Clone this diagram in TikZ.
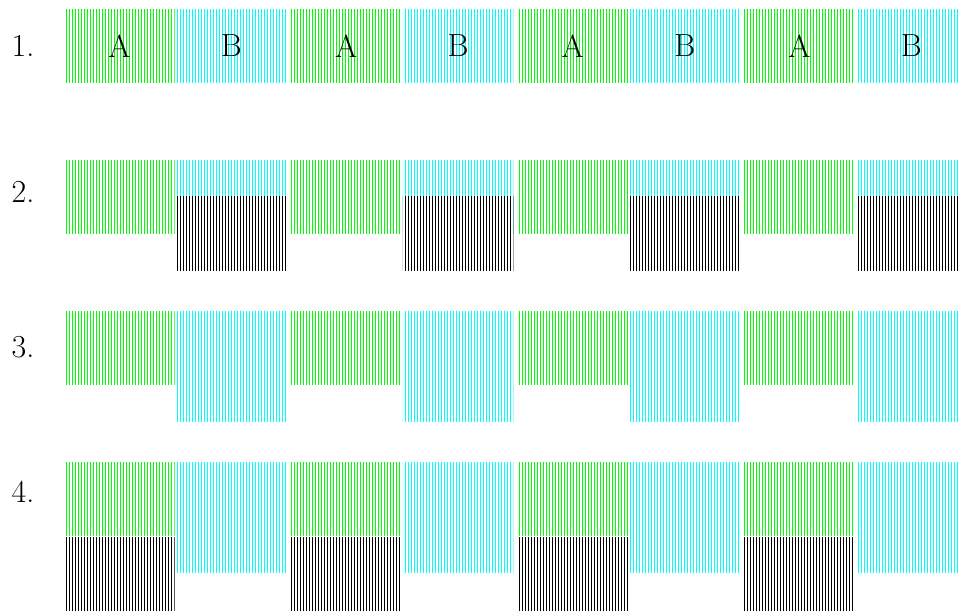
\documentclass[tikz,border=0pt]{standalone}
\usetikzlibrary{patterns}
\begin{document}
\begin{tikzpicture}[x=1pt,y=1pt,
  blk/.style={anchor=north west,inner sep=0pt,minimum width=110.5pt,minimum height=73.3pt,font=\fontsize{32}{38}\selectfont},
  tall/.style={minimum height=110.5pt},
  gblk/.style={blk,pattern=vertical lines,pattern color=green},
  cblk/.style={blk,pattern=vertical lines,pattern color=cyan},
  kblk/.style={blk,pattern=vertical lines,pattern color=black},
  num/.style={inner sep=0pt,font=\fontsize{32}{38}\selectfont}]
  \useasboundingbox (0,0) rectangle (959,613);
  % row labels
  \node[num] (n1) at (23,567.5) {1.};
  \node[num] (n2) at (23,421) {2.};
  \node[num] (n3) at (23,265.5) {3.};
  \node[num] (n4) at (23,121) {4.};
  % row 1
  \node[gblk] (a1-1) at (64,604) {A};
  \node[cblk] (b1-1) at (176,604) {B};
  \node[gblk] (a1-2) at (290.7,604) {A};
  \node[cblk] (b1-2) at (402.7,604) {B};
  \node[gblk] (a1-3) at (517.3,604) {A};
  \node[cblk] (b1-3) at (629.3,604) {B};
  \node[gblk] (a1-4) at (744,604) {A};
  \node[cblk] (b1-4) at (856,604) {B};
  % row 2
  \node[gblk] (a2-1) at (64,453) {};
  \node[cblk] (b2-1) at (176,453) {};
  \node[kblk] (k2-1) at (176,416.3) {};
  \node[gblk] (a2-2) at (290.7,453) {};
  \node[cblk] (b2-2) at (402.7,453) {};
  \node[kblk] (k2-2) at (402.7,416.3) {};
  \node[gblk] (a2-3) at (517.3,453) {};
  \node[cblk] (b2-3) at (629.3,453) {};
  \node[kblk] (k2-3) at (629.3,416.3) {};
  \node[gblk] (a2-4) at (744,453) {};
  \node[cblk] (b2-4) at (856,453) {};
  \node[kblk] (k2-4) at (856,416.3) {};
  % row 3
  \node[gblk] (a3-1) at (64,302) {};
  \node[cblk,tall] (b3-1) at (176,302) {};
  \node[gblk] (a3-2) at (290.7,302) {};
  \node[cblk,tall] (b3-2) at (402.7,302) {};
  \node[gblk] (a3-3) at (517.3,302) {};
  \node[cblk,tall] (b3-3) at (629.3,302) {};
  \node[gblk] (a3-4) at (744,302) {};
  \node[cblk,tall] (b3-4) at (856,302) {};
  % row 4
  \node[gblk] (a4-1) at (64,151) {};
  \node[kblk] (k4-1) at (64,75.5) {};
  \node[cblk,tall] (b4-1) at (176,151) {};
  \node[gblk] (a4-2) at (290.7,151) {};
  \node[kblk] (k4-2) at (290.7,75.5) {};
  \node[cblk,tall] (b4-2) at (402.7,151) {};
  \node[gblk] (a4-3) at (517.3,151) {};
  \node[kblk] (k4-3) at (517.3,75.5) {};
  \node[cblk,tall] (b4-3) at (629.3,151) {};
  \node[gblk] (a4-4) at (744,151) {};
  \node[kblk] (k4-4) at (744,75.5) {};
  \node[cblk,tall] (b4-4) at (856,151) {};
\end{tikzpicture}
\end{document}
